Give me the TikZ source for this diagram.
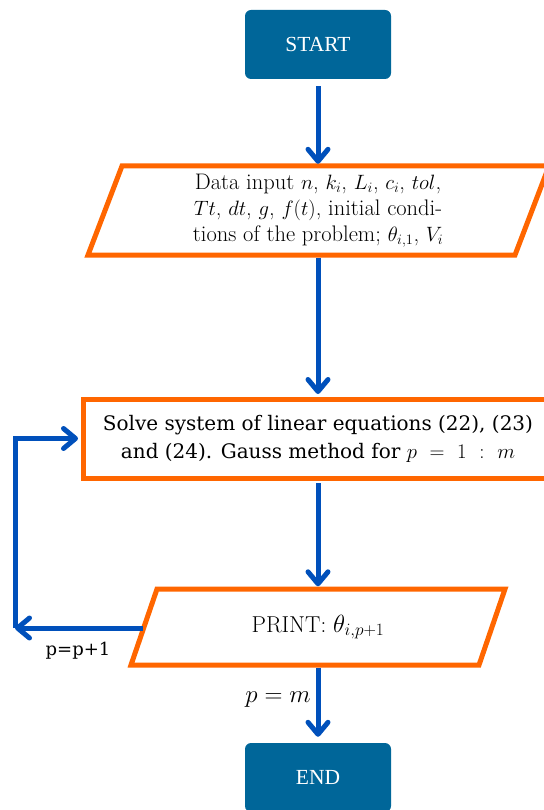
\documentclass[tikz,border=0pt]{standalone}
\usepackage{fontspec}
\newfontfamily\slabfont{DejaVu Serif}
\newfontfamily\timesfont{Liberation Serif}
\usetikzlibrary{arrows.meta}
\definecolor{termblue}{HTML}{006699}
\definecolor{edgeorange}{HTML}{FF6600}
\definecolor{arrowblue}{HTML}{0050BB}
\begin{document}
\begin{tikzpicture}[x=1pt,y=-1pt,
  term/.style={rectangle, rounded corners=6pt, fill=termblue, text=white,
    font=\timesfont\fontsize{21.5}{25}\selectfont, minimum width=146pt,
    minimum height=69pt, inner sep=0pt},
  ioshape/.style={draw=edgeorange, line width=5pt},
  iotext/.style={inner sep=0pt, align=center},
  procbox/.style={draw=edgeorange, line width=5pt, inner sep=0pt, align=center,
    font=\slabfont\fontsize{20}{28}\selectfont},
  flow/.style={draw=arrowblue, line width=5pt,
    -{Straight Barb[length=12pt,width=20pt,line width=5pt,round]}},
  lbl/.style={inner sep=0pt}
]
\useasboundingbox (0,0) rectangle (543,810);

% terminals
\node[term] (start) at (318,44.5) {START};
\node[term] (end) at (318,777.5) {END};

% input parallelogram
\draw[ioshape] (122,166) -- (549,166) -- (515,255) -- (88,255) -- cycle;
\node[iotext, minimum width=426pt, minimum height=89pt,
  font=\fontsize{22.5}{26}\selectfont] (input) at (318,210.5)
  {Data input $n$, $k_i$, $L_i$, $c_i$, $tol$,\\
   $Tt$, $dt$, $g$, $f(t)$, initial condi-\\
   tions of the problem; $\theta_{i,1}$, $V_i$};

% process box
\node[procbox, minimum width=470pt, minimum height=79pt] (solve) at (318,438.5)
  {Solve system of linear equations (22), (23)\\
   and (24). Gauss method for $p\mskip6mu=\mskip6mu1\mskip6mu:\mskip6mu m$};

% print parallelogram
\draw[ioshape] (157,589) -- (505,589) -- (479,665) -- (131,665) -- cycle;
\node[iotext, minimum width=348pt, minimum height=76pt,
  font=\fontsize{23}{27}\selectfont] (print) at (318,627)
  {PRINT: $\theta_{i,p+1}$};

% connectors
\draw[flow] ([yshift=-7pt]start.south) -- ([yshift=2pt]input.north);
\draw[flow] ([yshift=-2.5pt]input.south) -- ([yshift=2.5pt]solve.north);
\draw[flow] ([yshift=-2.5pt]solve.south) -- ([yshift=2.5pt]print.north);
\draw[flow] ([yshift=-2.5pt]print.south) -- ([yshift=6pt]end.north);

\coordinate (corner) at (15,628);
\draw[flow] ([xshift=-1pt,yshift=-1pt]print.west) -- (corner);
\draw[flow] (corner) |- ([xshift=-2.5pt]solve.west);

% labels
\node[lbl, font=\fontsize{23}{27}\selectfont] (pm) at (278,700) {$p=m$};
\node[lbl, font=\slabfont\fontsize{18}{22}\selectfont] (inc) at (78,651) {p=p+1};
\end{tikzpicture}
\end{document}
